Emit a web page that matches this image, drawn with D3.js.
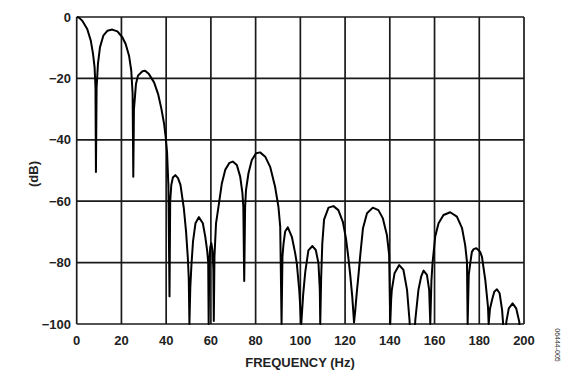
<!DOCTYPE html>
<html><head><meta charset="utf-8">
<script src="https://cdn.jsdelivr.net/npm/d3@7"></script>
<style>body{margin:0;background:#fff}svg{display:block}</style>
</head><body><svg id="c" width="580" height="380"></svg>
<script>
const freqHz = [0,1,2.5,4.7,6.3,7.3,8.0,8.4,8.6,8.9,9.5,10.4,11.9,13.7,15.9,18.2,20.4,21.9,23.4,24.4,25.0,25.3,25.6,25.9,26.5,27.4,29.4,30.6,32.3,34.6,36.4,37.9,39.1,39.8,40.4,41.0,41.5,41.8,42.3,43.0,44.1,45.3,46.4,47.9,48.9,49.7,50.1,50.4,50.8,51.3,52.0,53.1,54.6,56.4,57.5,58.4,58.8,59.0,59.3,59.7,60.2,60.7,61.1,61.3,61.6,62.3,63.4,64.9,66.4,68.3,69.8,71.6,73.1,74.1,74.5,74.9,75.3,75.7,76.8,78.3,80.2,82.0,84.3,86.5,88.7,90.2,91.0,91.6,92.0,92.5,93.2,94.4,96.2,97.7,98.4,99.5,100.4,101.3,102.2,103.6,105.4,106.9,108.1,108.7,108.9,109.3,109.8,110.6,112.6,114.8,117.0,119.0,120.4,121.5,122.3,123.2,124.0,124.5,125.2,126.0,126.8,128.0,129.8,132.4,134.9,136.9,138.7,139.7,140.2,140.6,140.9,142.1,144.2,146.1,147.7,148.8,150.1,151.4,152.8,154.0,155.1,156.6,157.6,158.1,158.6,159.1,160.3,161.8,164.0,167.0,170.0,172.3,173.7,174.5,174.8,175.3,176.0,176.7,177.5,178.7,180.4,181.2,182.7,183.9,184.2,184.8,185.7,186.7,187.9,189.1,190.2,190.6,191.3,192.1,193.2,194.9,196.5,197.9,198.5];
const gainDb = [0,-0.2,-1.2,-3.9,-7.7,-12,-16.4,-23,-50.5,-23,-15.3,-9.9,-6.1,-4.5,-4.1,-4.7,-6.6,-8.8,-12.6,-17.5,-25,-52,-30,-27.3,-21.8,-19.1,-17.7,-17.5,-18.6,-21.3,-25.1,-30,-34.9,-39.2,-44,-55,-91,-60,-54.7,-52.3,-51.5,-52.5,-54.7,-62.3,-69.9,-78.6,-85.1,-100,-88,-80.8,-73.2,-67.2,-65.2,-67.2,-71.6,-76.5,-80,-100,-80,-75,-73.7,-76,-82,-99,-78,-67.2,-61.8,-54.2,-49.8,-47.5,-47.1,-48.2,-52,-57.4,-61.8,-86,-62,-56.4,-50.9,-46.6,-44.4,-44.1,-45.5,-48.8,-55.3,-61.8,-68.3,-100,-78,-73.7,-69.9,-68.5,-71.6,-77,-80.2,-88.9,-100,-90,-83,-76,-74.6,-75.9,-80.2,-88.9,-100,-85,-74,-66,-62.1,-61.6,-62.9,-66.7,-72.1,-78.6,-84,-91,-99.5,-96,-90,-84,-77.5,-68.8,-63.9,-62.1,-62.9,-65.6,-71,-77.5,-100,-92,-88.9,-83.5,-80.8,-82.4,-88.9,-98.7,-115,-98.7,-88.9,-84.6,-82.6,-84,-88.9,-100,-86,-80.2,-71.5,-67.2,-64.5,-63.6,-65,-68.8,-74.3,-79.7,-100,-84,-80,-76.5,-75.6,-75.3,-76.5,-78.1,-85.7,-94.4,-100,-95,-92.2,-89.5,-88.7,-90,-95.4,-99.3,-110,-99.3,-94.9,-93.3,-94.9,-99.3,-110];
const xTicks = [0,20,40,60,80,100,120,140,160,180,200];
const yTicks = [0,-20,-40,-60,-80,-100];
const yTickLabels = ["0","\u221220","\u221240","\u221260","\u221280","\u2212100"];
const xTitle = "FREQUENCY (Hz)";
const yTitle = "(dB)";
const figId = "06444-005";

const svg = d3.select("#c");
const x = d3.scaleLinear().domain([0,200]).range([76.7,524]);
const y = d3.scaleLinear().domain([0,-100]).range([17,324]);
const font = "'Liberation Sans', Arial, sans-serif";

const grid = svg.append("g").attr("stroke","#1a1a1a").attr("stroke-width",1.7);
grid.selectAll("line.v").data(xTicks).join("line").attr("class","v")
  .attr("x1",d=>x(d)).attr("x2",d=>x(d)).attr("y1",y(0)).attr("y2",y(-100));
grid.selectAll("line.h").data(yTicks).join("line").attr("class","h")
  .attr("y1",d=>y(d)).attr("y2",d=>y(d)).attr("x1",x(0)).attr("x2",x(200));

svg.append("defs").append("clipPath").attr("id","clip").append("rect")
  .attr("x",x(0)).attr("y",y(0)-3).attr("width",x(200)-x(0)).attr("height",y(-100)-y(0)+4);

const pts = freqHz.map((f,i)=>[f,gainDb[i]]);
svg.append("path").datum(pts).attr("clip-path","url(#clip)")
  .attr("fill","none").attr("stroke","#000").attr("stroke-width",2).attr("stroke-linejoin","round")
  .attr("d",d3.line().x(d=>x(d[0])).y(d=>y(d[1])));

svg.append("g").selectAll("text").data(yTicks).join("text")
  .attr("x",71).attr("y",d=>y(d)).attr("dy","0.36em").attr("text-anchor","end")
  .attr("font-family",font).attr("font-weight","bold").attr("font-size",13).attr("fill","#222")
  .text((d,i)=>yTickLabels[i]);
svg.append("g").selectAll("text").data(xTicks).join("text")
  .attr("x",d=>x(d)).attr("y",345).attr("text-anchor","middle")
  .attr("font-family",font).attr("font-weight","bold").attr("font-size",13).attr("fill","#222")
  .text(d=>d);
svg.append("text").attr("x",300).attr("y",366.5).attr("text-anchor","middle")
  .attr("font-family",font).attr("font-weight","bold").attr("font-size",13).attr("fill","#222").text(xTitle);
svg.append("text").attr("transform","translate(38,174) rotate(-90)").attr("text-anchor","middle")
  .attr("font-family",font).attr("font-weight","bold").attr("font-size",13).attr("fill","#222").text(yTitle);
svg.append("text").attr("transform","translate(555,345) rotate(90)").attr("text-anchor","middle")
  .attr("font-family",font).attr("font-size",7).attr("fill","#333").text(figId);
</script></body></html>
